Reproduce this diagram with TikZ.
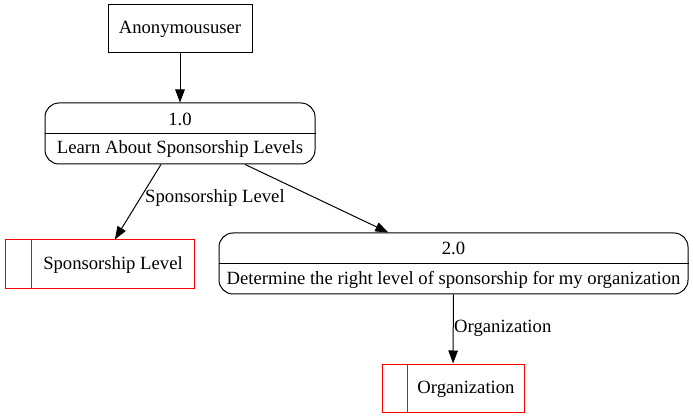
\documentclass[tikz,border=0pt]{standalone}
\usepackage{fontspec}
\setmainfont{Liberation Serif}
\usetikzlibrary{arrows.meta}
\begin{document}
\begin{tikzpicture}[x=1pt,y=-1pt,
  every node/.style={font=\fontsize{18.67}{21}\selectfont, inner sep=0pt},
  ext/.style={draw, line width=1pt, minimum width=144pt, minimum height=48pt},
  proc/.style={draw, rounded corners=14pt, line width=1pt},
  store/.style={draw=red, line width=1pt},
  flow/.style={-{Triangle[length=13pt,width=9.5pt]}, line width=1pt}]
\useasboundingbox (0,0) rectangle (693,419);
\fill[white] (0,0) rectangle (693,419);

\node[ext] (u) at (180,29) {Anonymoususer};

\node[proc, minimum width=270pt, minimum height=61pt] (p1) at (180,133.5) {};
\node (p1n) at (180,119.5) {1.0};
\node (p1t) at (180,149.5) {Learn About Sponsorship Levels};
\draw[line width=1pt] (p1.west |- p1.center) -- (p1.east |- p1.center);

\node[proc, minimum width=469pt, minimum height=61pt] (p2) at (453.5,263.5) {};
\node (p2n) at (453.5,248.5) {2.0};
\node (p2t) at (453.5,279.5) {Determine the right level of sponsorship for my organization};
\draw[line width=1pt] (p2.west |- p2.center) -- (p2.east |- p2.center);

\node[store, minimum width=189pt, minimum height=49pt] (s1) at (99.5,264.5) {};
\draw[red, line width=1pt] ([xshift=27pt]s1.north west) -- ([xshift=27pt]s1.south west);
\node (s1t) at (113,265.5) {Sponsorship Level};

\node[store, minimum width=142pt, minimum height=48pt] (s2) at (453,388) {};
\draw[red, line width=1pt] ([xshift=26pt]s2.north west) -- ([xshift=26pt]s2.south west);
\node (s2t) at (466,389) {Organization};

\draw[flow] (u) -- (p1);
\draw[flow] (p1) -- (s1);
\draw[flow] (p1) -- (p2);
\draw[flow] (p2) -- (s2);

\node[anchor=west] (l1) at (145,198.5) {Sponsorship Level};
\node[anchor=west] (l2) at (454,328.5) {Organization};
\end{tikzpicture}
\end{document}
